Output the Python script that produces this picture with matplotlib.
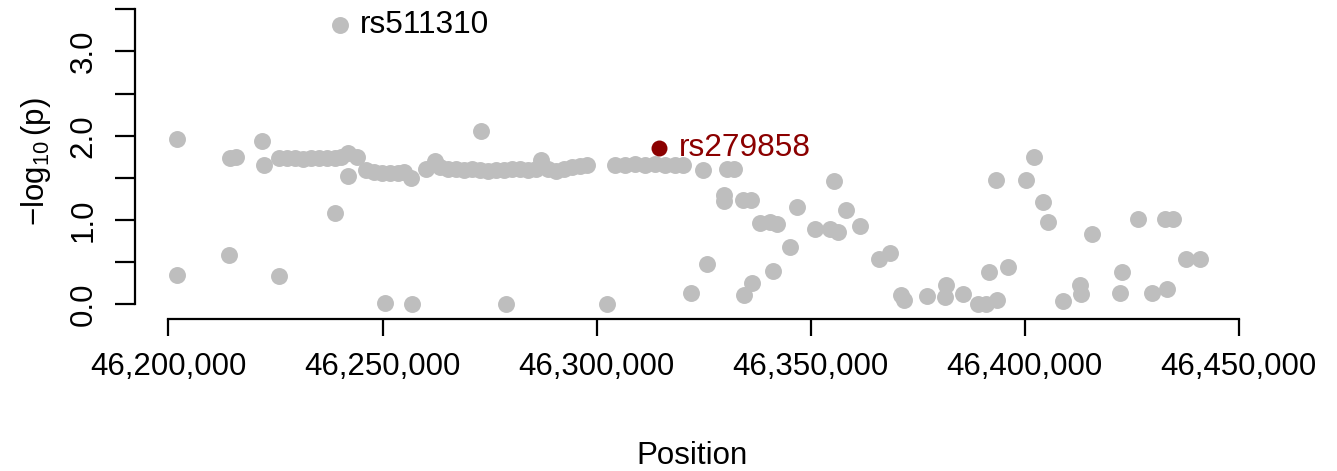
import matplotlib
matplotlib.use('Agg')
import matplotlib.pyplot as plt

plt.rcParams['font.family'] = ['Liberation Sans', 'DejaVu Sans']
plt.rcParams['mathtext.fontset'] = 'custom'
plt.rcParams['mathtext.rm'] = 'Liberation Sans'

# SNP positions (bp) and -log10(p) values
positions = [
    46202000, 46201900, 46214200, 46214400, 46215800, 46221900, 46222400, 46225900,
    46225800, 46227700, 46229600, 46231400, 46233300, 46235200, 46237000, 46238900,
    46240300, 46241900, 46244000, 46242000, 46238900, 46250700, 46256800,
    46246100, 46248000, 46249900, 46251700, 46253600, 46255000, 46256700,
    46260200, 46262300, 46263400,
    46265300, 46267200, 46269000, 46270900, 46272800, 46274700, 46276500, 46278400,
    46280300, 46282100, 46284000, 46285900, 46287000, 46288700, 46290500, 46292400,
    46294300, 46296100, 46297800,
    46272900, 46278800, 46302500,
    46304300, 46306600, 46309000, 46311300, 46313600, 46316000, 46318300, 46320200,
    46324900, 46330500, 46332100, 46329800, 46329800, 46334300, 46336200,
    46338200, 46340500, 46342100, 46346800, 46345200, 46341200, 46336400, 46334500,
    46325700, 46322000, 46351000, 46354500, 46356500, 46355600, 46358400, 46361500,
    46366100, 46368500, 46371200, 46371800, 46377100, 46381600, 46381400, 46385700,
    46389200, 46391100, 46393500, 46391600, 46396200, 46393300, 46402200, 46400300,
    46404400, 46405600, 46408900, 46412900, 46413100, 46415700, 46422800, 46422400,
    46426600, 46429900, 46433200, 46432800, 46434600, 46437700, 46441000,
]
logp = [
    1.96, 0.35, 0.59, 1.74, 1.75, 1.94, 1.65, 0.34,
    1.73, 1.74, 1.73, 1.72, 1.73, 1.73, 1.74, 1.74,
    1.75, 1.79, 1.75, 1.52, 1.08, 0.02, 0.00,
    1.59, 1.57, 1.56, 1.56, 1.56, 1.57, 1.50,
    1.60, 1.70, 1.63,
    1.60, 1.60, 1.59, 1.60, 1.59, 1.58, 1.59, 1.59,
    1.60, 1.60, 1.59, 1.61, 1.71, 1.60, 1.58, 1.61,
    1.63, 1.64, 1.65,
    2.05, 0.00, 0.00,
    1.65, 1.65, 1.66, 1.65, 1.66, 1.65, 1.65, 1.65,
    1.59, 1.60, 1.60, 1.30, 1.23, 1.24, 1.24,
    0.96, 0.98, 0.95, 1.15, 0.68, 0.40, 0.26, 0.11,
    0.48, 0.14, 0.89, 0.89, 0.86, 1.46, 1.12, 0.93,
    0.54, 0.61, 0.11, 0.05, 0.10, 0.23, 0.09, 0.13,
    0.00, 0.00, 0.05, 0.38, 0.45, 1.47, 1.75, 1.47,
    1.21, 0.98, 0.04, 0.23, 0.12, 0.84, 0.38, 0.14,
    1.01, 0.14, 0.18, 1.01, 1.01, 0.54, 0.54,
]

# labelled SNPs
top_snp = 'rs511310'
top_pos = 46240070
top_logp = 3.31
lead_snp = 'rs279858'
lead_pos = 46314700
lead_logp = 1.85

xticks = [46200000, 46250000, 46300000, 46350000, 46400000, 46450000]
yticks = [0, 0.5, 1.0, 1.5, 2.0, 2.5, 3.0, 3.5]

fig = plt.figure(figsize=(13.37, 4.71), dpi=100)
ax = fig.add_axes([0.10097, 0.3227, 0.83396, 0.6667])

ax.plot(positions, logp, 'o', color='#BEBEBE', markersize=12.2, markeredgewidth=0)
ax.plot([top_pos], [top_logp], 'o', color='#BEBEBE', markersize=12.2, markeredgewidth=0)
ax.plot([lead_pos], [lead_logp], 'o', color='#8B0000', markersize=11.5, markeredgewidth=0)

ax.annotate(top_snp, (top_pos, top_logp), xytext=(14, 0), textcoords='offset points',
            va='center', ha='left', fontsize=22.8, color='black')
ax.annotate(lead_snp, (lead_pos, lead_logp), xytext=(14, 0), textcoords='offset points',
            va='center', ha='left', fontsize=22.8, color='#8B0000')

ax.set_xlim(46192173, 46452682)
ax.set_ylim(-0.172, 3.549)

for s in ['top', 'right']:
    ax.spines[s].set_visible(False)
ax.spines['left'].set_bounds(0, 3.5)
ax.spines['bottom'].set_bounds(xticks[0], xticks[-1])
ax.spines['left'].set_linewidth(1.6)
ax.spines['bottom'].set_linewidth(1.6)

ax.set_xticks(xticks)
ax.set_xticklabels(['{:,}'.format(v) for v in xticks], fontsize=22.5)
ax.set_yticks(yticks)
ax.set_yticklabels(['{:.1f}'.format(v) if v == int(v) else '' for v in yticks],
                   fontsize=22.5, rotation=90, va='center')
ax.tick_params(axis='x', length=12, width=1.6, pad=12)
ax.tick_params(axis='y', length=14.4, width=1.6, pad=12)

ax.set_xlabel('Position', fontsize=22.5, labelpad=42)
ax.set_ylabel(r'$\mathregular{-log_{10}\,(p)}$', fontsize=22.5, labelpad=11)

plt.savefig('out.png', dpi=100)
